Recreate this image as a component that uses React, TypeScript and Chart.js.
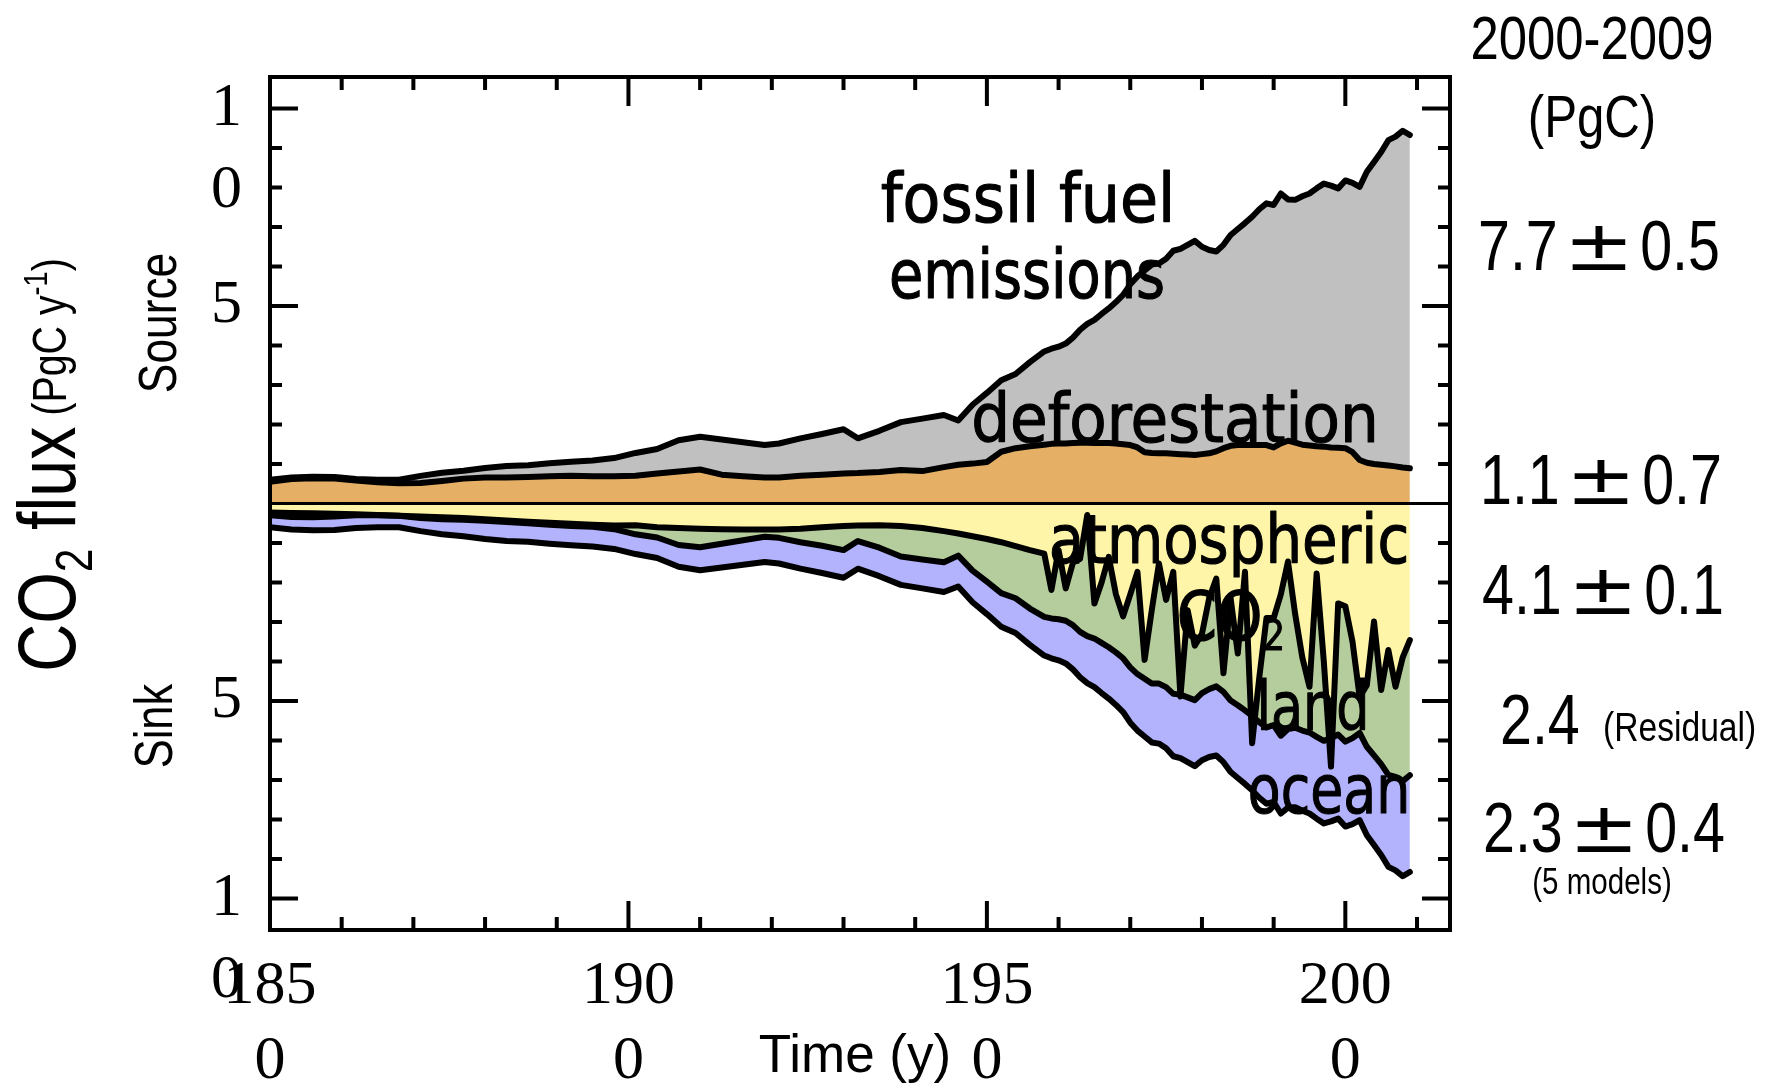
import React, { useEffect, useRef } from 'react';
import { Chart, registerables } from 'chart.js';

Chart.register(...registerables);

// ---------------- data (PgC per year) ----------------
const years = [
  1850, 1853, 1856, 1859, 1862, 1865, 1868, 1871, 1874, 1877,
  1880, 1883, 1886, 1889, 1892, 1895, 1898,
  1901, 1904, 1907, 1910, 1913, 1916, 1919,
  1921, 1924, 1927, 1930,
  1932, 1935, 1938, 1941, 1944,
  1946, 1948, 1950, 1952, 1954, 1956, 1958,
  1959, 1960, 1961, 1962, 1963, 1964, 1965, 1966, 1967, 1968,
  1969, 1970, 1971, 1972, 1973, 1974, 1975, 1976, 1977, 1978,
  1979, 1980, 1981, 1982, 1983, 1984, 1985, 1986, 1987, 1988,
  1989, 1990, 1991, 1992, 1993, 1994, 1995, 1996, 1997, 1998,
  1999, 2000, 2001, 2002, 2003, 2004, 2005, 2006, 2007, 2008,
  2009,
];

const deforestation = [
  0.55, 0.62, 0.64, 0.63, 0.58, 0.54, 0.51, 0.52, 0.57, 0.63,
  0.66, 0.66, 0.67, 0.69, 0.70, 0.69, 0.69,
  0.70, 0.76, 0.81, 0.86, 0.73, 0.69, 0.66,
  0.66, 0.70, 0.73, 0.76,
  0.77, 0.80, 0.85, 0.82, 0.92,
  0.98, 1.01, 1.05, 1.31, 1.40, 1.45, 1.49,
  1.51, 1.52, 1.52, 1.53, 1.54, 1.54, 1.53, 1.53, 1.53, 1.52,
  1.50, 1.48, 1.42, 1.30, 1.28, 1.27, 1.27, 1.26, 1.25, 1.24,
  1.23, 1.25, 1.27, 1.32, 1.40, 1.46, 1.48, 1.48, 1.48, 1.48,
  1.48, 1.42, 1.52, 1.59, 1.54, 1.49, 1.47, 1.45, 1.44, 1.42,
  1.41, 1.40, 1.30, 1.10, 1.03, 1.00, 0.98, 0.96, 0.94, 0.91,
  0.89,
];

const fossilFuel = [
  0.05, 0.04, 0.04, 0.04, 0.04, 0.06, 0.09, 0.18, 0.21, 0.20,
  0.24, 0.29, 0.30, 0.33, 0.36, 0.40, 0.46,
  0.58, 0.62, 0.79, 0.83, 0.89, 0.86, 0.82,
  0.86, 0.95, 1.03, 1.12,
  0.88, 1.04, 1.21, 1.33, 1.32,
  1.12, 1.49, 1.75, 1.81, 1.88, 2.13, 2.36,
  2.41, 2.45, 2.53, 2.67, 2.86, 3.01, 3.12, 3.27, 3.41, 3.58,
  3.78, 4.07, 4.33, 4.60, 4.77, 4.81, 4.93, 5.14, 5.20, 5.31,
  5.42, 5.25, 5.15, 5.06, 5.15, 5.34, 5.47, 5.62, 5.78, 5.97,
  6.12, 6.14, 6.33, 6.11, 6.15, 6.29, 6.38, 6.53, 6.66, 6.63,
  6.57, 6.78, 6.82, 6.92, 7.37, 7.65, 7.92, 8.24, 8.35, 8.53,
  8.44,
];

const atmospheric = [
  0.23, 0.24, 0.25, 0.26, 0.27, 0.29, 0.31, 0.33, 0.35, 0.37,
  0.40, 0.43, 0.46, 0.49, 0.51, 0.54, 0.56,
  0.55, 0.60, 0.62, 0.64, 0.65, 0.66, 0.66,
  0.66, 0.64, 0.60, 0.57,
  0.56, 0.55, 0.57, 0.62, 0.70,
  0.76, 0.83, 0.90, 0.98, 1.08, 1.18, 1.27,
  2.19, 1.18, 2.15, 1.50, 1.40, 0.29, 2.53, 2.00, 1.35, 2.30,
  2.86, 2.30, 1.73, 3.96, 2.70, 1.52, 2.44, 1.73, 4.89, 2.70,
  3.60, 3.30, 2.40, 1.90, 4.30, 2.40, 3.80, 1.73, 6.07, 4.40,
  2.90, 2.90, 2.30, 1.47, 2.80, 3.90, 4.64, 1.77, 4.00, 6.66,
  2.53, 2.60, 3.50, 4.90, 4.60, 2.99, 4.72, 3.71, 4.64, 3.90,
  3.46,
];

const land = [
  0.07, 0.10, 0.10, 0.07, 0.03, 0.01, 0.00, 0.04, 0.05, 0.04,
  0.04, 0.04, 0.04, 0.05, 0.06, 0.05, 0.09,
  0.23, 0.26, 0.43, 0.47, 0.37, 0.27, 0.18,
  0.21, 0.34, 0.47, 0.61,
  0.39, 0.57, 0.77, 0.80, 0.79,
  0.56, 0.87, 1.08, 1.29, 1.32, 1.48, 1.60,
  0.72, 1.75, 0.82, 1.58, 1.85, 3.07, 0.89, 1.53, 2.29, 1.47,
  1.06, 1.85, 2.59, 0.48, 1.86, 3.04, 2.21, 3.09, -0.05, 2.21,
  1.38, 1.50, 2.30, 2.73, 0.47, 2.59, 1.31, 3.51, -0.69, 1.14,
  2.77, 2.71, 3.58, 4.24, 2.88, 1.85, 1.16, 4.14, 2.01, -0.72,
  3.32, 3.43, 2.44, 0.91, 1.56, 3.39, 1.88, 3.16, 2.28, 3.13,
  3.42,
];

const ocean = [
  0.30, 0.32, 0.33, 0.34, 0.32, 0.30, 0.29, 0.33, 0.38, 0.42,
  0.46, 0.48, 0.47, 0.48, 0.49, 0.50, 0.50,
  0.50, 0.52, 0.55, 0.58, 0.60, 0.62, 0.64,
  0.65, 0.67, 0.69, 0.70,
  0.70, 0.72, 0.72, 0.73, 0.75,
  0.78, 0.80, 0.82, 0.85, 0.88, 0.92, 0.98,
  1.01, 1.04, 1.08, 1.12, 1.15, 1.19, 1.23, 1.27, 1.30, 1.33,
  1.36, 1.40, 1.43, 1.46, 1.49, 1.52, 1.55, 1.58, 1.61, 1.64,
  1.67, 1.70, 1.72, 1.75, 1.78, 1.81, 1.84, 1.86, 1.88, 1.91,
  1.93, 1.95, 1.97, 1.99, 2.01, 2.03, 2.05, 2.07, 2.09, 2.11,
  2.13, 2.15, 2.18, 2.21, 2.24, 2.27, 2.30, 2.33, 2.37, 2.41,
  2.45,
];

// ---------------- ticks ----------------
const xLabelValues = [1850, 1900, 1950, 2000];
const xTickLabels = [['185', '0'], ['190', '0'], ['195', '0'], ['200', '0']];
const yLabelValues = [10, 5, -5, -10];
const yTickLabels = [['', '1', '0'], ['5'], ['5'], ['', '1', '0']];
const xTickMarks = [1860, 1870, 1880, 1890, 1900, 1910, 1920, 1930, 1940, 1950, 1960, 1970, 1980, 1990, 2000, 2010];
const xMajorTicks = [1900, 1950, 2000];
const yTickMarks = [-10, -9, -8, -7, -6, -5, -4, -3, -2, -1, 1, 2, 3, 4, 5, 6, 7, 8, 9, 10];
const yMajorTicks = [-10, -5, 5, 10];

// ---------------- styles ----------------
const SERIF = '"Liberation Serif", "Times New Roman", serif';
const SANS = '"Liberation Sans", Arial, sans-serif';
const COMIC = '"DejaVu Sans", sans-serif';
const NARROW = 0.82;

const C_ORANGE = '#e5b066';
const C_GRAY = '#c0c0c0';
const C_YELLOW = '#fef5a8';
const C_GREEN = '#b5cd9c';
const C_BLUE = '#b2b2fd';

type Seg = { t: string; size: number; family?: string; dy?: number; sx?: number; gap?: number; bold?: number };

function drawRich(
  ctx: CanvasRenderingContext2D,
  segs: Seg[],
  x: number,
  y: number,
  align: 'left' | 'center' | 'right',
  rot = 0
) {
  ctx.save();
  ctx.translate(x, y);
  if (rot) ctx.rotate(rot);
  ctx.textBaseline = 'alphabetic';
  ctx.textAlign = 'left';
  ctx.fillStyle = '#000';
  ctx.strokeStyle = '#000';
  ctx.lineJoin = 'round';
  const widths = segs.map((s) => {
    ctx.font = `${s.size}px ${s.family ?? SANS}`;
    return ctx.measureText(s.t).width * (s.sx ?? 1) + (s.gap ?? 0);
  });
  const total = widths.reduce((a, b) => a + b, 0);
  let cx = align === 'left' ? 0 : align === 'center' ? -total / 2 : -total;
  segs.forEach((s, i) => {
    ctx.font = `${s.size}px ${s.family ?? SANS}`;
    const g = s.gap ?? 0;
    ctx.save();
    ctx.translate(cx + g, s.dy ?? 0);
    ctx.scale(s.sx ?? 1, 1);
    ctx.fillText(s.t, 0, 0);
    if (s.bold) {
      ctx.lineWidth = s.bold;
      ctx.strokeText(s.t, 0, 0);
    }
    ctx.restore();
    cx += widths[i];
  });
  ctx.restore();
}

function pm(a: string, b: string): Seg[] {
  return [
    { t: a, size: 70, sx: NARROW },
    { t: '±', size: 70, family: COMIC, sx: 1.2, gap: 6 },
    { t: b, size: 70, sx: NARROW, gap: 6 },
  ];
}

function comic(t: string, sx: number): Seg[] {
  return [{ t, size: 68, family: COMIC, sx, bold: 1.2 }];
}

type TextItem = { segs: Seg[]; x: number; y: number; align: 'left' | 'center' | 'right'; rot?: number };

const texts: TextItem[] = [
  // left axis title
  {
    segs: [
      { t: 'CO', size: 81, sx: NARROW },
      { t: '2', size: 52, sx: NARROW, dy: 17 },
      { t: ' flux', size: 81, sx: NARROW },
      { t: ' (PgC y', size: 48, sx: NARROW, dy: -9 },
      { t: '-1', size: 33, sx: NARROW, dy: -28 },
      { t: ')', size: 48, sx: NARROW, dy: -9 },
    ],
    x: 75, y: 465, align: 'center', rot: -Math.PI / 2,
  },
  { segs: [{ t: 'Source', size: 54, sx: NARROW }], x: 176, y: 323, align: 'center', rot: -Math.PI / 2 },
  { segs: [{ t: 'Sink', size: 53, sx: NARROW }], x: 172, y: 726, align: 'center', rot: -Math.PI / 2 },
  // x title
  { segs: [{ t: 'Time (y)', size: 53 }], x: 855, y: 1072, align: 'center' },
  // right column
  { segs: [{ t: '2000-2009', size: 62, sx: NARROW }], x: 1592, y: 59, align: 'center' },
  { segs: [{ t: '(PgC)', size: 60, sx: NARROW }], x: 1592, y: 137, align: 'center' },
  { segs: pm('7.7', '0.5'), x: 1478, y: 270, align: 'left' },
  { segs: pm('1.1', '0.7'), x: 1480, y: 504, align: 'left' },
  { segs: pm('4.1', '0.1'), x: 1482, y: 614, align: 'left' },
  { segs: [{ t: '2.4', size: 70, sx: NARROW }], x: 1500, y: 744, align: 'left' },
  { segs: [{ t: '(Residual)', size: 41, sx: NARROW }], x: 1603, y: 741, align: 'left' },
  { segs: pm('2.3', '0.4'), x: 1483, y: 852, align: 'left' },
  { segs: [{ t: '(5 models)', size: 36, sx: NARROW }], x: 1602, y: 894, align: 'center' },
  // in-plot annotations
  { segs: comic('fossil fuel', 0.91), x: 1028, y: 222, align: 'center' },
  { segs: comic('emissions', 0.82), x: 1027, y: 298, align: 'center' },
  { segs: comic('deforestation', 0.9), x: 1175, y: 442, align: 'center' },
  { segs: comic('atmospheric', 0.85), x: 1229, y: 563, align: 'center' },
  {
    segs: [
      { t: 'CO', size: 68, family: COMIC, sx: 0.85, bold: 1.2 },
      { t: '2', size: 42, family: COMIC, sx: 0.85, dy: 10, bold: 1 },
    ],
    x: 1231, y: 640, align: 'center',
  },
  { segs: comic('land', 0.77), x: 1313, y: 730, align: 'center' },
  { segs: comic('ocean', 0.79), x: 1329, y: 813, align: 'center' },
];

const overlayPlugin = {
  id: 'overlay',
  afterDatasetsDraw(chart: any) {
    const { ctx, chartArea, scales } = chart;
    const { left, right, top, bottom } = chartArea;
    const xs = scales.x;
    const ys = scales.y;
    ctx.save();
    ctx.strokeStyle = '#000';
    ctx.lineCap = 'butt';
    // zero line
    ctx.lineWidth = 3;
    const y0 = ys.getPixelForValue(0);
    ctx.beginPath();
    ctx.moveTo(left, y0);
    ctx.lineTo(right, y0);
    ctx.stroke();
    // inward ticks
    ctx.lineWidth = 4;
    ctx.beginPath();
    for (const v of yTickMarks) {
      const py = ys.getPixelForValue(v);
      const len = yMajorTicks.includes(v) ? 28 : 12;
      ctx.moveTo(left, py);
      ctx.lineTo(left + len, py);
      ctx.moveTo(right, py);
      ctx.lineTo(right - len, py);
    }
    for (const v of xTickMarks) {
      const px = xs.getPixelForValue(v);
      const len = xMajorTicks.includes(v) ? 29 : 13;
      ctx.moveTo(px, bottom);
      ctx.lineTo(px, bottom - len);
      ctx.moveTo(px, top);
      ctx.lineTo(px, top + len);
    }
    ctx.stroke();
    // frame
    ctx.lineWidth = 4;
    ctx.strokeRect(left, top, right - left, bottom - top);
    ctx.restore();
  },
  afterDraw(chart: any) {
    const ctx = chart.ctx as CanvasRenderingContext2D;
    for (const it of texts) drawRich(ctx, it.segs, it.x, it.y, it.align, it.rot ?? 0);
  },
};

export default function App() {
  const ref = useRef<HTMLCanvasElement>(null);

  useEffect(() => {
    const pts = (f: (i: number) => number) => years.map((x, i) => ({ x, y: f(i) }));
    const line = {
      borderColor: '#000',
      borderWidth: 6,
      pointRadius: 0,
      tension: 0,
      borderJoinStyle: 'round' as const,
      borderCapStyle: 'round' as const,
    };
    const chart = new Chart(ref.current as HTMLCanvasElement, {
      type: 'line',
      data: {
        datasets: [
          { ...line, label: 'deforestation', data: pts((i) => deforestation[i]), fill: 'origin', backgroundColor: C_ORANGE },
          { ...line, label: 'fossil fuel emissions', data: pts((i) => deforestation[i] + fossilFuel[i]), fill: '-1', backgroundColor: C_GRAY },
          { ...line, label: 'atmospheric CO2', data: pts((i) => -atmospheric[i]), fill: 'origin', backgroundColor: C_YELLOW },
          { ...line, label: 'land', data: pts((i) => -(atmospheric[i] + land[i])), fill: '-1', backgroundColor: C_GREEN },
          { ...line, label: 'ocean', data: pts((i) => -(atmospheric[i] + land[i] + ocean[i])), fill: '-1', backgroundColor: C_BLUE },
        ],
      },
      options: {
        responsive: false,
        animation: false,
        devicePixelRatio: 1,
        events: [],
        layout: { padding: { left: 0, right: 323, top: 77, bottom: 0 } },
        plugins: {
          legend: { display: false },
          tooltip: { enabled: false },
          filler: { drawTime: 'beforeDatasetsDraw' },
        },
        scales: {
          x: {
            type: 'linear',
            min: 1850,
            max: 2014.6,
            grid: { display: false, drawTicks: false },
            border: { display: false },
            afterBuildTicks: (s: any) => {
              s.ticks = xLabelValues.map((v) => ({ value: v }));
            },
            afterFit: (s: any) => {
              s.height = 162;
              s.paddingLeft = 0;
              s.paddingRight = 0;
            },
            ticks: {
              autoSkip: false,
              maxRotation: 0,
              minRotation: 0,
              padding: 20,
              color: '#000',
              font: { family: SERIF, size: 62, lineHeight: 1.2 },
              callback: (_v: any, i: number) => xTickLabels[i],
            },
          },
          y: {
            type: 'linear',
            min: -10.8,
            max: 10.8,
            grid: { display: false, drawTicks: false },
            border: { display: false },
            afterBuildTicks: (s: any) => {
              s.ticks = yLabelValues.map((v) => ({ value: v }));
            },
            afterFit: (s: any) => {
              s.width = 270;
              s.paddingTop = 0;
              s.paddingBottom = 0;
            },
            ticks: {
              autoSkip: false,
              padding: 28,
              color: '#000',
              font: { family: SERIF, size: 62, lineHeight: 1.32 },
              callback: (_v: any, i: number) => yTickLabels[i],
            },
          },
        },
      },
      plugins: [overlayPlugin],
    } as any);
    return () => chart.destroy();
  }, []);

  return (
    <div style={{ position: 'fixed', left: 0, top: 0, width: 1773, height: 1092, background: '#fff' }}>
      <canvas ref={ref} width={1773} height={1092} style={{ display: 'block', width: 1773, height: 1092 }} />
    </div>
  );
}
